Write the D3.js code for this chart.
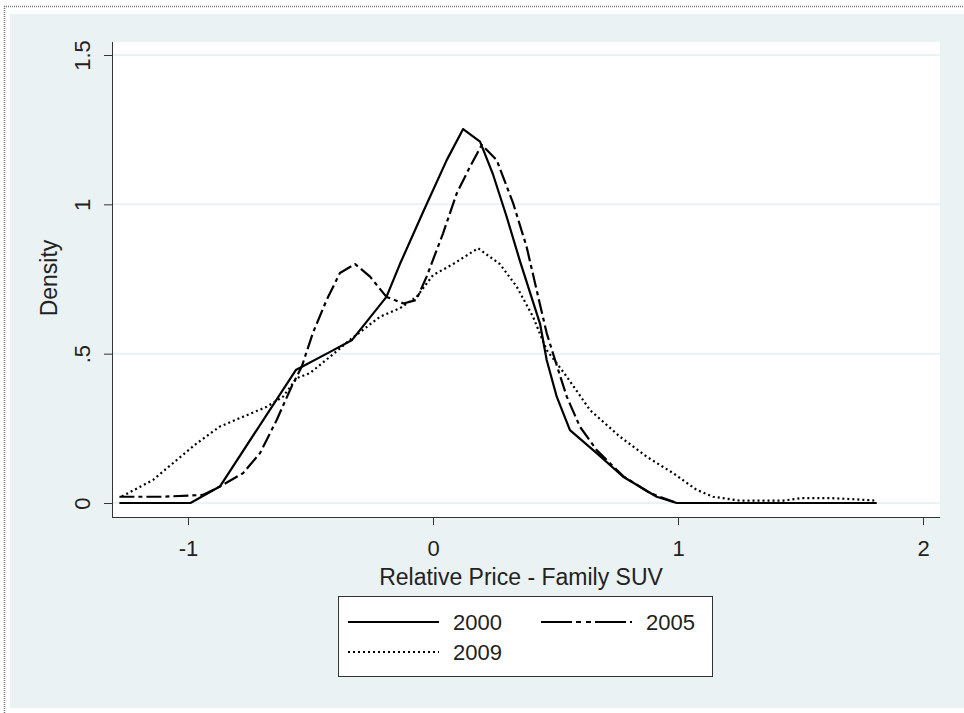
<!DOCTYPE html>
<html>
<head>
<meta charset="utf-8">
<script src="https://cdn.jsdelivr.net/npm/d3@7"></script>
<style>
  html, body { margin: 0; padding: 0; background: #fff; }
  svg { display: block; }
  text { font-family: "Liberation Sans", Arial, sans-serif; fill: #222; }
</style>
</head>
<body>
<svg id="chart" width="964" height="713"></svg>
<script>
// ---- data ----
const x2000 = [-1.28, -0.99, -0.87, -0.56, -0.42, -0.33, -0.19, -0.135, -0.04, 0.056, 0.123, 0.192, 0.245, 0.30, 0.355, 0.437, 0.464, 0.505, 0.559, 0.668, 0.776, 0.913, 0.995, 1.81];
const d2000 = [0, 0, 0.055, 0.445, 0.506, 0.546, 0.69, 0.80, 0.975, 1.148, 1.252, 1.21, 1.10, 0.96, 0.81, 0.60, 0.479, 0.356, 0.244, 0.167, 0.088, 0.021, 0, 0];

const x2005 = [-1.28, -1.1, -0.94, -0.87, -0.775, -0.706, -0.638, -0.577, -0.536, -0.49, -0.434, -0.38, -0.318, -0.257, -0.19, -0.12, -0.068, -0.026, 0.041, 0.097, 0.151, 0.199, 0.26, 0.327, 0.382, 0.423, 0.464, 0.498, 0.546, 0.60, 0.668, 0.776, 0.886, 0.995, 1.81];
const d2005 = [0.021, 0.021, 0.027, 0.055, 0.10, 0.167, 0.278, 0.39, 0.456, 0.57, 0.68, 0.77, 0.80, 0.758, 0.69, 0.668, 0.68, 0.758, 0.903, 1.037, 1.126, 1.199, 1.148, 1.004, 0.858, 0.713, 0.569, 0.479, 0.356, 0.255, 0.177, 0.09, 0.033, 0, 0];

const x2009 = [-1.27, -1.143, -1.046, -0.964, -0.87, -0.775, -0.679, -0.612, -0.556, -0.502, -0.42, -0.339, -0.216, -0.135, -0.067, 0.0, 0.082, 0.184, 0.273, 0.342, 0.408, 0.464, 0.546, 0.641, 0.763, 0.872, 0.98, 1.076, 1.143, 1.253, 1.43, 1.50, 1.63, 1.71, 1.81];
const d2009 = [0.022, 0.077, 0.144, 0.20, 0.256, 0.289, 0.322, 0.356, 0.418, 0.435, 0.49, 0.546, 0.624, 0.652, 0.69, 0.763, 0.80, 0.853, 0.80, 0.724, 0.624, 0.512, 0.423, 0.311, 0.222, 0.155, 0.10, 0.044, 0.021, 0.008, 0.008, 0.016, 0.016, 0.013, 0.008];

const seriesNames = ["2000", "2005", "2009"];
const xTicks = [-1, 0, 1, 2];
const xTickLabels = ["-1", "0", "1", "2"];
const yTicks = [0, 0.5, 1, 1.5];
const yTickLabels = ["0", ".5", "1", "1.5"];

// ---- layout ----
const svg = d3.select("#chart");
const bg = "#eaf2f3";
const ink = "#222";
const plot = { left: 112, right: 940, top: 42, bottom: 517 };

const x = d3.scaleLinear().domain([0, 1]).range([433, 678]);
const y = d3.scaleLinear().domain([0, 1.5]).range([503, 55]);

// outer frame
svg.append("rect").attr("x", 10).attr("y", 14).attr("width", 954).attr("height", 694).attr("fill", bg);
svg.append("line").attr("x1", 4).attr("x2", 964).attr("y1", 6.5).attr("y2", 6.5)
    .attr("stroke", "#777").attr("stroke-width", 1.5).attr("stroke-dasharray", "1,1");
svg.append("line").attr("x1", 4.5).attr("x2", 4.5).attr("y1", 6).attr("y2", 713)
    .attr("stroke", "#777").attr("stroke-width", 1.5).attr("stroke-dasharray", "1,1");

// plot region
svg.append("rect").attr("x", plot.left).attr("y", plot.top)
    .attr("width", plot.right - plot.left).attr("height", plot.bottom - plot.top).attr("fill", "#fff");

// grid lines
svg.append("g").selectAll("line").data(yTicks).enter().append("line")
    .attr("x1", plot.left).attr("x2", plot.right)
    .attr("y1", d => y(d)).attr("y2", d => y(d))
    .attr("stroke", bg).attr("stroke-width", 2);

// y axis
const yAxis = svg.append("g").attr("transform", `translate(${plot.left},0)`)
    .call(d3.axisLeft(y).tickValues(yTicks).tickSize(8).tickFormat((d, i) => yTickLabels[i]));
yAxis.select(".domain").attr("d", `M0.5,${plot.top}V${plot.bottom}`).attr("stroke", "#333");
yAxis.selectAll(".tick line").attr("stroke", "#333");
yAxis.selectAll(".tick text")
    .attr("transform", "rotate(-90)")
    .attr("x", 0).attr("y", -22).attr("dy", 0)
    .attr("text-anchor", "middle")
    .style("font-size", "22px").style("font-family", "Liberation Sans, Arial, sans-serif").attr("fill", ink);

// x axis
const xAxis = svg.append("g").attr("transform", `translate(0,${plot.bottom})`)
    .call(d3.axisBottom(x).tickValues(xTicks).tickSize(8).tickFormat((d, i) => xTickLabels[i]));
xAxis.select(".domain").attr("d", `M${plot.left},0.5H${plot.right}`).attr("stroke", "#333");
xAxis.selectAll(".tick line").attr("stroke", "#333");
xAxis.selectAll(".tick text").attr("y", 39).attr("dy", 0)
    .style("font-size", "22px").style("font-family", "Liberation Sans, Arial, sans-serif").attr("fill", ink);

// axis titles
svg.append("text").attr("transform", "translate(57,278) rotate(-90)")
    .attr("text-anchor", "middle").style("font-size", "23px").text("Density");
svg.append("text").attr("x", 521).attr("y", 585)
    .attr("text-anchor", "middle").style("font-size", "23px").text("Relative Price - Family SUV");

// curves
const styles = [
  { dash: null, legendDash: null },
  { dash: "15,4,4,4", legendDash: "31,4,5,5,5,4" },
  { dash: "2,3", legendDash: "2,3" }
];
const series = [
  d3.zip(x2000, d2000),
  d3.zip(x2005, d2005),
  d3.zip(x2009, d2009)
];
const line = d3.line().x(d => x(d[0])).y(d => y(d[1]));

svg.append("g").selectAll("path").data(series).enter().append("path")
    .attr("d", line)
    .attr("fill", "none")
    .attr("stroke", "#000")
    .attr("stroke-width", 2.2)
    .attr("stroke-dasharray", (d, i) => styles[i].dash)
    .attr("stroke-linejoin", "round");

// legend
const legend = svg.append("g");
legend.append("rect").attr("x", 338.5).attr("y", 596.5).attr("width", 374).attr("height", 80)
    .attr("fill", "#fff").attr("stroke", "#333").attr("stroke-width", 1);
const legendPos = [
  { x: 348, y: 622 },
  { x: 541, y: 622 },
  { x: 348, y: 652 }
];
seriesNames.forEach((name, i) => {
  const p = legendPos[i];
  legend.append("line").attr("x1", p.x).attr("x2", p.x + 91).attr("y1", p.y).attr("y2", p.y)
      .attr("stroke", "#000").attr("stroke-width", 2.2)
      .attr("stroke-dasharray", styles[i].legendDash);
  legend.append("text").attr("x", p.x + 105).attr("y", p.y + 8)
      .style("font-size", "22px").text(name);
});
</script>
</body>
</html>
